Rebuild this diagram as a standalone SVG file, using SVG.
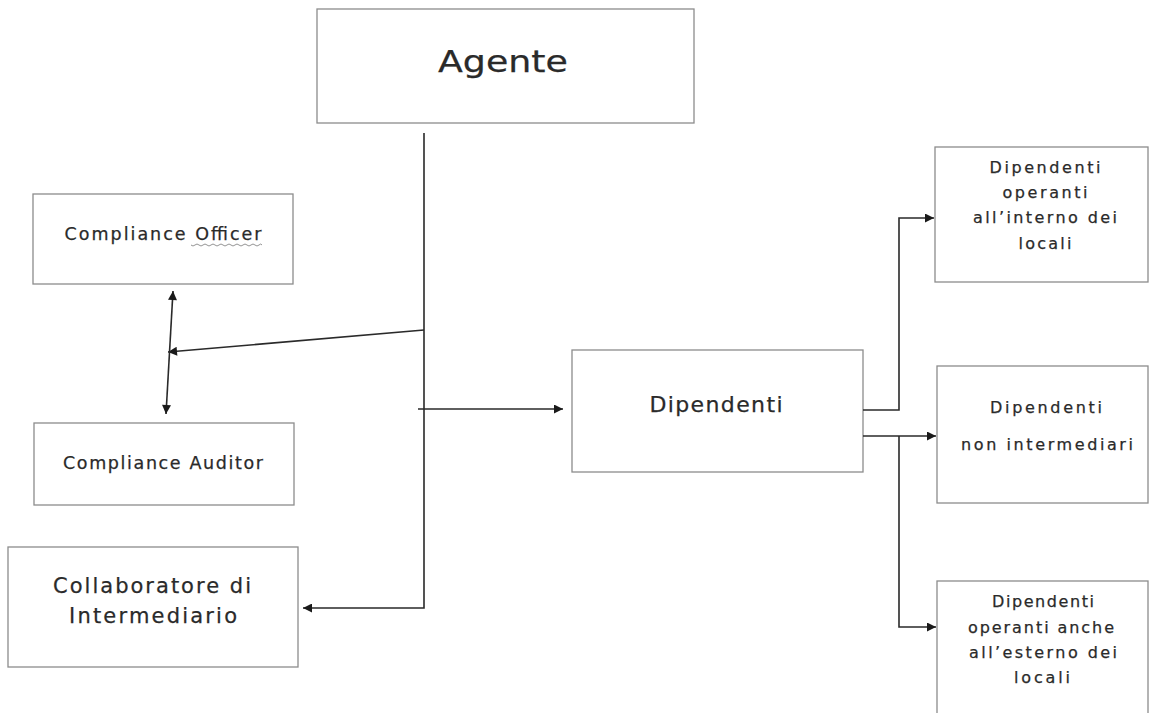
<svg xmlns="http://www.w3.org/2000/svg" width="1154" height="713" viewBox="0 0 1154 713">
<style>
.box{fill:#fff;stroke:#8c8c8c;stroke-width:1.3}
.t{font-family:"DejaVu Sans","Liberation Sans",sans-serif;fill:#2a2a2a;text-anchor:middle;stroke:#2a2a2a;stroke-width:0.25}
.s{font-size:16px}
.c{fill:none;stroke:#2a2a2a;stroke-width:1.6}
</style>
<defs>
<marker id="ah" viewBox="0 0 10 10" refX="10" refY="5" markerWidth="11" markerHeight="9" markerUnits="userSpaceOnUse" orient="auto-start-reverse">
<path d="M0,0 L10,5 L0,10 z" fill="#1a1a1a"/>
</marker>
</defs>
<rect width="1154" height="713" fill="#fff"/>
<g id="agente">
<rect class="box" x="317" y="9" width="377" height="114"/>
<text class="t" x="503" y="72" font-size="31" textLength="130" lengthAdjust="spacingAndGlyphs">Agente</text>
</g>
<g id="compliance-officer">
<rect class="box" x="33" y="194" width="260" height="90"/>
<text class="t" x="163" y="240" font-size="17.5" textLength="197" lengthAdjust="spacing">Compliance Officer</text>
<path d="M191,245 q2,2 4,0 t4,0 t4,0 t4,0 t4,0 t4,0 t4,0 t4,0 t4,0 t4,0 t4,0 t4,0 t4,0 t4,0 t4,0 t4,0 t4,0 t3,0" fill="none" stroke="#888" stroke-width="0.9"/>
</g>
<g id="compliance-auditor">
<rect class="box" x="34" y="423" width="260" height="82"/>
<text class="t" x="163" y="469" font-size="17.5" textLength="200" lengthAdjust="spacing">Compliance Auditor</text>
</g>
<g id="collaboratore">
<rect class="box" x="8" y="547" width="290" height="120"/>
<text class="t" x="152" y="593" font-size="21" textLength="198" lengthAdjust="spacing">Collaboratore di</text>
<text class="t" x="153" y="623" font-size="21" textLength="168" lengthAdjust="spacing">Intermediario</text>
</g>
<g id="dipendenti">
<rect class="box" x="572" y="350" width="291" height="122"/>
<text class="t" x="716" y="412" font-size="22" textLength="133" lengthAdjust="spacing">Dipendenti</text>
</g>
<g id="dip-interno">
<rect class="box" x="935" y="147" width="213" height="135"/>
<text class="t s" x="1045" y="173" textLength="111" lengthAdjust="spacing">Dipendenti</text>
<text class="t s" x="1045" y="198" textLength="85" lengthAdjust="spacing">operanti</text>
<text class="t s" x="1045" y="223" textLength="144" lengthAdjust="spacing">all’interno dei</text>
<text class="t s" x="1045" y="249" textLength="53" lengthAdjust="spacing">locali</text>
</g>
<g id="dip-non-intermediari">
<rect class="box" x="937" y="366" width="211" height="137"/>
<text class="t s" x="1046" y="413" textLength="112" lengthAdjust="spacing">Dipendenti</text>
<text class="t s" x="1047" y="450" textLength="172" lengthAdjust="spacing">non intermediari</text>
</g>
<g id="dip-esterno">
<rect class="box" x="937" y="581" width="211" height="140"/>
<text class="t s" x="1043" y="607" textLength="102" lengthAdjust="spacing">Dipendenti</text>
<text class="t s" x="1041" y="633" textLength="146" lengthAdjust="spacing">operanti anche</text>
<text class="t s" x="1043" y="658" textLength="148" lengthAdjust="spacing">all’esterno dei</text>
<text class="t s" x="1042" y="683" textLength="56" lengthAdjust="spacing">locali</text>
</g>
<g id="connectors">
<path class="c" d="M424,133 V608 H303" marker-end="url(#ah)"/>
<path class="c" d="M424,330 L168,352" marker-end="url(#ah)"/>
<path class="c" d="M173,291 L166,414" marker-start="url(#ah)" marker-end="url(#ah)"/>
<path class="c" d="M418,409 H563" marker-end="url(#ah)"/>
<path class="c" d="M863,410 H899 V218 H934" marker-end="url(#ah)"/>
<path class="c" d="M863,436 H936" marker-end="url(#ah)"/>
<path class="c" d="M899,436 V627 H936" marker-end="url(#ah)"/>
</g>
</svg>
